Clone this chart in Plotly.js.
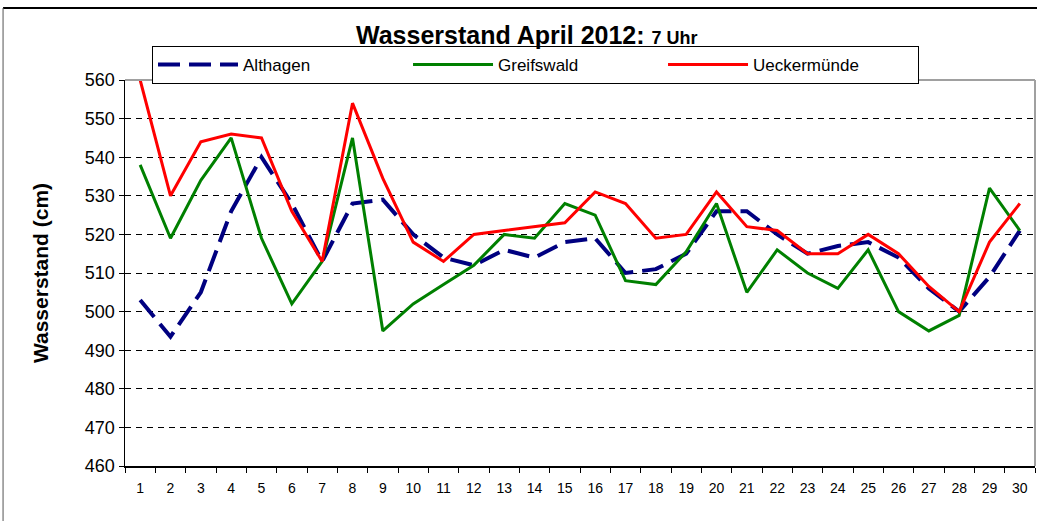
<!DOCTYPE html>
<html>
<head>
<meta charset="utf-8">
<script src="https://cdn.plot.ly/plotly-3.0.1.min.js"></script>
<style>html,body{margin:0;padding:0;background:#fff;}#chart{width:1037px;height:521px;}</style>
</head>
<body>
<div id="chart"></div>
<script>
const days = [1,2,3,4,5,6,7,8,9,10,11,12,13,14,15,16,17,18,19,20,21,22,23,24,25,26,27,28,29,30];
const althagen = [503,493.5,505,526,540,528,513,528,529,520,514,512,516,514,518,519,510,511,515,526,526,520,515,517,518,514,506,500,509,521];
const greifswald = [538,519,534,545,519,502,513,545,495,502,507,512,520,519,528,525,508,507,515.5,528,505,516,510,506,516,500,495,499,532,521];
const ueckermuende = [560,530,544,546,545,526,513,554,534.5,518,513,520,521,522,523,531,528,519,520,531,522,521,515,515,520,515,506.5,500,518,528];
const yTicks = [460,470,480,490,500,510,520,530,540,550,560];

const FONT = "'Liberation Sans', Arial, sans-serif";

const traces = [
  {x: days, y: althagen, name: 'Althagen', type: 'scatter', mode: 'lines',
   line: {color: '#000080', width: 4, dash: '22px,9px'}},
  {x: days, y: greifswald, name: 'Greifswald', type: 'scatter', mode: 'lines',
   line: {color: '#008000', width: 3}},
  {x: days, y: ueckermuende, name: 'Ueckermünde', type: 'scatter', mode: 'lines',
   line: {color: '#FF0000', width: 3}}
];

const layout = {
  width: 1037, height: 521,
  margin: {l: 125, r: 2, t: 80, b: 55},
  paper_bgcolor: '#ffffff', plot_bgcolor: '#ffffff',
  showlegend: true,
  title: {
    text: "<b>Wasserstand April 2012: <span style='font-size:18px'>7 Uhr</span></b>",
    font: {family: FONT, size: 25, color: '#000'},
    x: 0.508, xref: 'container', xanchor: 'center',
    y: 0.933, yref: 'container', yanchor: 'middle'
  },
  legend: {
    orientation: 'h', x: 0.0297, xanchor: 'left', y: 0.99, yanchor: 'bottom',
    bgcolor: '#ffffff', bordercolor: '#000', borderwidth: 1,
    font: {family: FONT, size: 17, color: '#000'},
    itemwidth: 80, entrywidth: 160, entrywidthmode: 'pixels',
    tracegroupgap: 0
  },
  xaxis: {
    type: 'category', range: [-0.5, 29.5], tickson: 'boundaries', ticks: 'outside', ticklen: 5,
    tickcolor: '#000', showline: true, linecolor: '#000', linewidth: 1.5,
    showgrid: false, zeroline: false, ticklabelstandoff: 9,
    tickfont: {family: FONT, size: 14, color: '#000'},
    fixedrange: true
  },
  yaxis: {
    range: [460, 560], tickvals: yTicks, ticks: 'outside', ticklen: 5,
    tickcolor: '#000', showline: true, linecolor: '#000', linewidth: 1.5,
    showgrid: true, gridcolor: '#000', gridwidth: 1, griddash: '6px,5px',
    zeroline: false,
    tickfont: {family: FONT, size: 18, color: '#000'},
    title: {text: '<b>Wasserstand (cm)</b>', font: {family: FONT, size: 21, color: '#000'}, standoff: 30},
    fixedrange: true
  },
  shapes: [
    {type: 'line', xref: 'paper', yref: 'paper', x0: 0, x1: 1, y0: 1, y1: 1,
     line: {color: '#a0a0a0', width: 2}},
    {type: 'line', xref: 'paper', yref: 'paper', x0: 1, x1: 1, y0: 0, y1: 1,
     line: {color: '#a0a0a0', width: 2}},
    {type: 'line', xref: 'paper', yref: 'paper', x0: -0.134, x1: 1.01, y0: 1.1865, y1: 1.1865,
     line: {color: '#000', width: 2}},
    {type: 'line', xref: 'paper', yref: 'paper', x0: -0.134, x1: -0.134, y0: -0.15, y1: 1.1865,
     line: {color: '#555', width: 1}}
  ]
};

Plotly.newPlot('chart', traces, layout, {displayModeBar: false, staticPlot: true});
</script>
</body>
</html>
